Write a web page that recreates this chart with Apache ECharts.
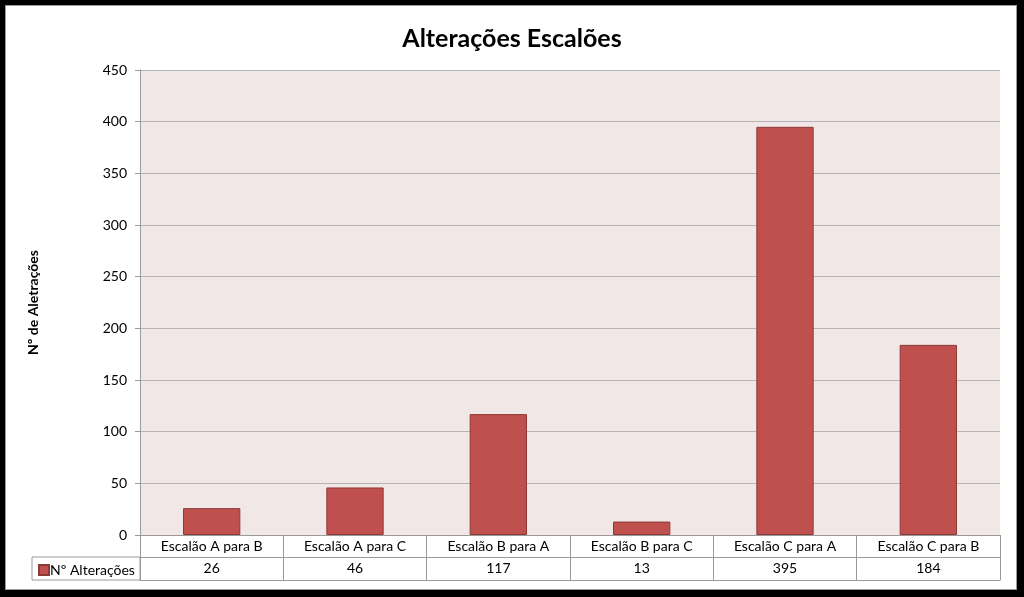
<!DOCTYPE html>
<html><head><meta charset="utf-8">
<script src="https://cdn.jsdelivr.net/npm/echarts@6/dist/echarts.min.js"></script>
<style>
html,body{margin:0;padding:0;background:#000;width:1024px;height:597px;overflow:hidden;}
#frame{position:absolute;left:5px;top:5px;width:1012px;height:585px;background:#fff;border:1px solid #9a9a9a;box-sizing:border-box;}
#c{position:absolute;left:0;top:0;width:1024px;height:597px;}
</style></head>
<body>
<div id="frame"></div>
<div id="c"></div>
<script>
const categories = ["Escalão A para B","Escalão A para C","Escalão B para A","Escalão B para C","Escalão C para A","Escalão C para B"];
const values = [26, 46, 117, 13, 395, 184];
const seriesName = "Nº Alterações";
const titleText = "Alterações Escalões";
const yAxisName = "Nº de Aletrações";

const FONT = "Lato";
const chart = echarts.init(document.getElementById('c'), null, {renderer:'canvas'});
chart.setOption({
  backgroundColor: 'transparent',
  animation: false,
  textStyle: {fontFamily: FONT},
  title: {text: titleText, left: 'center', top: 21,
    textStyle: {fontFamily: FONT, fontSize: 25, fontWeight: 'bold', color: '#000'}},
  legend: {data:[seriesName], left: 38, top: 563, padding: 0, itemWidth: 10, itemHeight: 10,
    textStyle: {fontFamily: FONT, fontSize: 14, color: '#000', padding:[0,0,0,-4]}, icon: 'rect'},
  grid: {left: 140, top: 70, right: 24, bottom: 62, show: true, backgroundColor: '#F2E7E7', borderWidth: 0},
  graphic: [{type:'rect', shape:{x:32, y:557, width:108, height:23}, style:{fill:'none', stroke:'#9a9a9a', lineWidth:1}}],
  xAxis: [
    {type:'category', data: categories, position:'bottom', boundaryGap:true,
      axisLine:{show:true, lineStyle:{color:'#9a9a9a'}},
      axisTick:{show:true, interval:0, length:45, lineStyle:{color:'#9a9a9a'}},
      axisLabel:{interval:0, margin:4, fontFamily:FONT, fontSize:14, color:'#000'}},
    {type:'category', data: values.map(String), position:'bottom', offset:22, gridIndex:0,
      axisLine:{show:true, lineStyle:{color:'#9a9a9a'}},
      axisTick:{show:false},
      axisLabel:{interval:0, margin:4, fontFamily:FONT, fontSize:14, color:'#000'}},
    {type:'category', data: categories, position:'bottom', offset:45, gridIndex:0,
      axisLine:{show:true, lineStyle:{color:'#9a9a9a'}},
      axisTick:{show:false}, axisLabel:{show:false}}
  ],
  yAxis: {type:'value', min:0, max:450, interval:50,
    name: yAxisName, nameLocation:'middle', nameRotate:90, nameGap:100,
    nameTextStyle:{fontFamily:FONT, fontSize:14, fontWeight:'bold', color:'#000'},
    axisLine:{show:true, lineStyle:{color:'#9a9a9a'}},
    axisTick:{show:true, length:5, lineStyle:{color:'#9a9a9a'}},
    axisLabel:{fontFamily:FONT, fontSize:14, color:'#000', margin:13},
    splitLine:{show:true, lineStyle:{color:'#b4b4b4'}}},
  series: [{name: seriesName, type:'bar', data: values, xAxisIndex:0, barCategoryGap:'60%',
    itemStyle:{color:'#C0504D', borderColor:'#8C3A38', borderWidth:1}}]
});
</script>
</body></html>
